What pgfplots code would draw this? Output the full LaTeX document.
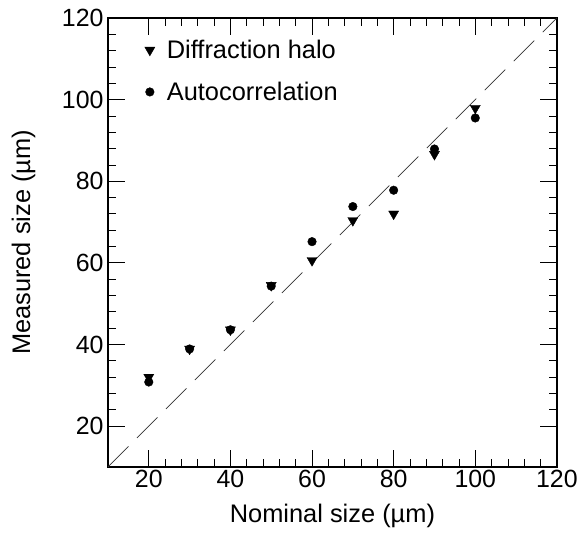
\documentclass[border=0pt]{standalone}
\usepackage{fontspec}
\setmainfont{Liberation Sans}
\usepackage{pgfplots}
\pgfplotsset{compat=1.18}
\begin{document}
\begin{tikzpicture}
\begin{axis}[
  name=ax,
  scale only axis,
  width=449bp, height=449bp,
  xmin=10, xmax=120, ymin=10, ymax=120,
  xtick={20,40,...,120}, ytick={20,40,...,120},
  minor tick num=4,
  tick align=inside,
  major tick length=17bp, minor tick length=8bp,
  every tick/.style={black, line width=0.8bp},
  axis line style={line width=1.3bp},
  /pgf/number format/assume math mode=true,
  ticklabel style={font=\fontsize{25}{29}\selectfont},
  xticklabel style={yshift=0bp},
  yticklabel style={xshift=-1bp},
  xlabel={Nominal size (µm)},
  ylabel={Measured size (µm)},
  label style={font=\fontsize{25.5}{30}\selectfont},
  xlabel style={at={(axis description cs:0.5,-0.11)}, anchor=center},
  ylabel style={at={(axis description cs:-0.188,0.5)}, anchor=center},
  legend style={draw=none, fill=none, at={(axis description cs:0.075,0.96)}, anchor=north west,
    font=\fontsize{25.5}{30}\selectfont, row sep=18bp,
    /tikz/every odd column/.append style={column sep=10bp}},
  legend cell align=left,
]
\addplot[only marks, mark=triangle*, mark size=5.8bp, black, every mark/.append style={rotate=180}]
  coordinates {(20,32) (30,38.9) (40,43.6) (50,54.5) (60,60.6) (70,70.4) (80,72.0) (90,86.6) (100,97.9)};
\addlegendentry{Diffraction halo}
\addplot[only marks, mark=*, mark size=4.3bp, black]
  coordinates {(20,30.8) (30,38.9) (40,43.6) (50,54.3) (60,65.2) (70,73.8) (80,77.8) (90,87.9) (100,95.5)};
\addlegendentry{Autocorrelation}
\addplot[black!80, line width=0.7bp, dash pattern=on 29bp off 12bp, forget plot]
  coordinates {(10,10) (120,120)};
\end{axis}
\path[use as bounding box] ([shift={(-108bp,-90bp)}]ax.south west) rectangle ([shift={(24bp,18bp)}]ax.north east);
\end{tikzpicture}
\end{document}
